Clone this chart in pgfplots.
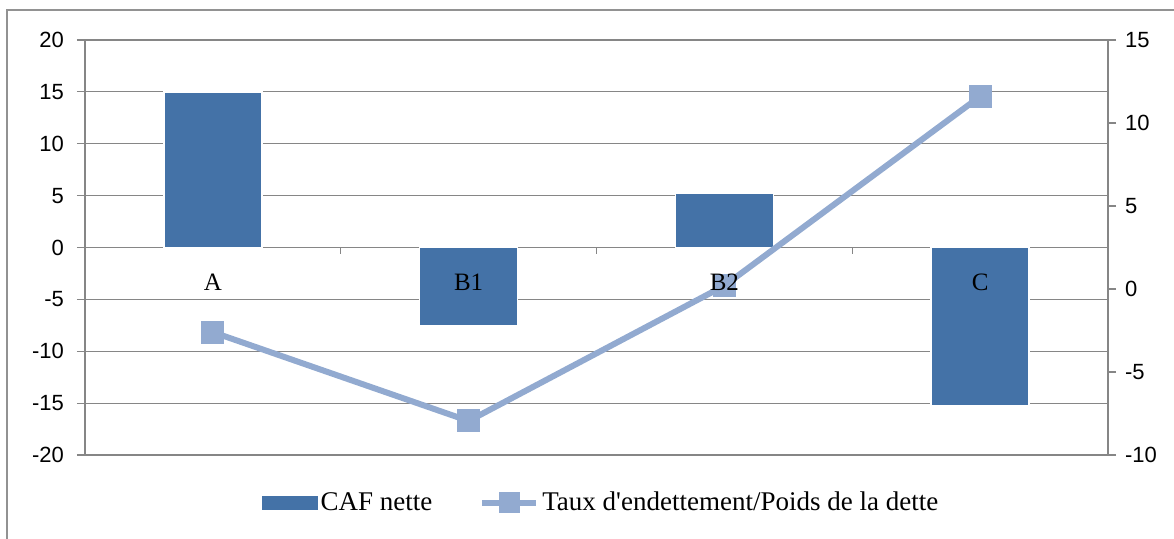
\documentclass[border=0pt]{standalone}
\usepackage{pgfplots}
\pgfplotsset{compat=1.18}
\usepackage{fontspec}
\setmainfont{Liberation Serif}
\newfontfamily\legfont{Liberation Serif}
\newfontfamily\ticksfont{Liberation Sans}
\definecolor{barcol}{RGB}{68,114,167}
\definecolor{linecol}{RGB}{146,170,208}
\definecolor{gridcol}{RGB}{134,134,134}
\pgfplotsset{frame/.style={
    at={(42.5pt,41.5pt)}, anchor=south west,
    scale only axis, width=511.5pt, height=207.5pt,
    xmin=-0.5, xmax=3.5,
    /pgf/number format/assume math mode=true}}

\begin{document}
\begin{tikzpicture}
\useasboundingbox (0,0) rectangle (587pt,269pt);
\draw[gridcol!90, line width=1pt] (3.5pt,-2pt) -- (3.5pt,264pt) -- (590pt,264pt);

% left axis: CAF nette
\begin{axis}[
    frame, ymin=-20, ymax=20,
    axis x line=middle, axis y line=left,
    x axis line style={-, gridcol, line width=0.6pt},
    y axis line style={-, gridcol, line width=0.6pt},
    xtick={0,1,2,3}, xticklabels={},
    major x tick style={draw=none},
    minor xtick={0.5,1.5,2.5},
    minor x tick style={gridcol, line width=0.6pt},
    xtick align=outside, minor tick length=3pt,
    ytick={-20,-15,...,20}, ytick align=outside, major tick length=4pt,
    y tick style={gridcol, line width=0.6pt},
    yticklabel style={font=\ticksfont\fontsize{11}{13}\selectfont, xshift=-3pt},
    ymajorgrids, grid style={gridcol, line width=0.6pt},
    ybar, bar width=49pt,
    legend columns=2,
    legend style={draw=none, at={(0.505,-0.115)}, anchor=center,
        font=\legfont\fontsize{13.5}{16}\selectfont,
        nodes={inner xsep=1.5pt},
        /tikz/every even column/.append style={column sep=22pt}},
]
\addplot[fill=barcol, draw=white, line width=0.8pt,
    legend image code/.code={\fill[barcol] (0pt,-3pt) rectangle (27pt,3pt);}]
    coordinates {(0,15)(1,-7.5)(2,5.2)(3,-15.3)};
\addlegendentry{CAF nette}
\addlegendimage{legend image code/.code={
    \draw[linecol, line width=3pt] (0pt,0pt) -- (27pt,0pt);
    \fill[linecol] (8.5pt,-5pt) rectangle (18.5pt,5pt);}}
\addlegendentry{Taux d'endettement/Poids de la dette}
\end{axis}

% right axis: Taux d'endettement
\begin{axis}[
    frame, ymin=-10, ymax=15,
    axis y line*=right, axis x line=none,
    y axis line style={-, gridcol, line width=0.6pt},
    ytick={-10,-5,...,15}, ytick align=outside, major tick length=4pt,
    y tick style={gridcol, line width=0.6pt},
    yticklabel style={font=\ticksfont\fontsize{11}{13}\selectfont, xshift=1pt},
]
\addplot[linecol, line width=3pt, mark=square*, mark size=5.5pt,
    mark options={fill=linecol, draw=linecol, line width=0pt}]
    coordinates {(0,-2.6)(1,-7.95)(2,0.2)(3,11.6)};
\end{axis}

% category names, on top of bars and line, just under the zero line
\begin{axis}[
    frame, ymin=-20, ymax=20,
    axis x line=middle, axis y line=none,
    x axis line style={draw=none}, x tick style={draw=none},
    xtick={0,1,2,3}, xticklabels={A,B1,B2,C},
    xticklabel style={font=\legfont\fontsize{12.5}{15}\selectfont, yshift=-7.5pt},
]
\end{axis}
\end{tikzpicture}
\end{document}
